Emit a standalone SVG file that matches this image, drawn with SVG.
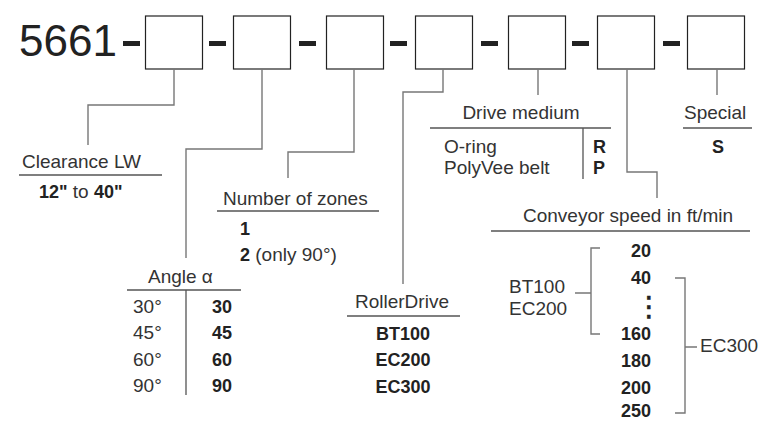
<svg xmlns="http://www.w3.org/2000/svg" width="759" height="421" viewBox="0 0 759 421">
<style>
text{font-family:"Liberation Sans",Arial,sans-serif;fill:#333;font-size:19px}
.b{font-weight:bold;font-size:18px;fill:#222}
.box{fill:#fff;stroke:#222;stroke-width:1.2}
.dash{fill:#222}
.c{fill:none;stroke:#777;stroke-width:1.4}
.u{fill:none;stroke:#555;stroke-width:1.3}
.e{text-anchor:end}
.m{text-anchor:middle}
</style>
<rect width="759" height="421" fill="#fff"/>
<g id="code">
<text x="19" y="56" style="font-size:44px;fill:#222">5661</text>
<rect class="dash" x="123" y="41" width="17" height="5"/>
<rect class="dash" x="209" y="41" width="17" height="5"/>
<rect class="dash" x="299" y="41" width="17" height="5"/>
<rect class="dash" x="390" y="41" width="17" height="5"/>
<rect class="dash" x="481" y="41" width="17" height="5"/>
<rect class="dash" x="572" y="41" width="17" height="5"/>
<rect class="dash" x="663" y="41" width="17" height="5"/>
</g>
<g id="box1"><rect class="box" x="145.5" y="16" width="57" height="53"/></g>
<g id="box2"><rect class="box" x="233.5" y="16" width="57" height="53"/></g>
<g id="box3"><rect class="box" x="326.5" y="16" width="57" height="53"/></g>
<g id="box4"><rect class="box" x="415.5" y="16" width="57" height="53"/></g>
<g id="box5"><rect class="box" x="508.5" y="16" width="57" height="53"/></g>
<g id="box6"><rect class="box" x="597.5" y="16" width="57" height="53"/></g>
<g id="box7"><rect class="box" x="687.5" y="16" width="57" height="53"/></g>
<g id="connectors">
<path class="c" d="M174,69V105H88V145"/>
<path class="c" d="M262,69V149H186V258"/>
<path class="c" d="M354,69V152H288V178"/>
<path class="c" d="M443,69V92H403V284"/>
<path class="c" d="M538,69V95"/>
<path class="c" d="M627,69V172H657V198"/>
<path class="c" d="M717,69V95"/>
<path class="c" d="M600,248H591V334H600M575,293H591"/>
<path class="c" d="M675,278H685V413H675M685,347H697"/>
</g>
<g id="clearance">
<text x="22" y="168">Clearance LW</text>
<path class="u" d="M19,175H162"/>
<text x="39" y="198"><tspan class="b">12"</tspan> to <tspan class="b">40"</tspan></text>
</g>
<g id="zones">
<text x="223" y="205">Number of zones</text>
<path class="u" d="M217,211H379"/>
<text class="b" x="240" y="235">1</text>
<text x="240" y="261"><tspan class="b">2</tspan> (only 90°)</text>
</g>
<g id="angle">
<text x="148" y="283">Angle α</text>
<path class="u" d="M127,290H241M186,290V395"/>
<text x="133" y="313">30°</text>
<text x="133" y="339">45°</text>
<text x="133" y="366">60°</text>
<text x="133" y="392">90°</text>
<text class="b e" x="232" y="313">30</text>
<text class="b e" x="232" y="339">45</text>
<text class="b e" x="232" y="366">60</text>
<text class="b e" x="232" y="392">90</text>
</g>
<g id="rollerdrive">
<text x="355" y="308">RollerDrive</text>
<path class="u" d="M347,316H460"/>
<text class="b m" x="403" y="340">BT100</text>
<text class="b m" x="403" y="366">EC200</text>
<text class="b m" x="403" y="393">EC300</text>
</g>
<g id="drive">
<text class="m" x="521" y="119">Drive medium</text>
<path class="u" d="M430,128H611M583,128V179"/>
<text x="444" y="153">O-ring</text>
<text x="444" y="174">PolyVee belt</text>
<text class="b" x="593" y="153">R</text>
<text class="b" x="593" y="174">P</text>
</g>
<g id="special">
<text x="684" y="119">Special</text>
<path class="u" d="M683,128H752"/>
<text class="b m" x="718" y="153">S</text>
</g>
<g id="speed">
<text x="523" y="222">Conveyor speed in ft/min</text>
<path class="u" d="M491,231H750"/>
<text x="509" y="293">BT100</text>
<text x="509" y="315">EC200</text>
<text x="700" y="352">EC300</text>
<text class="b e" x="651" y="257">20</text>
<text class="b e" x="651" y="284">40</text>
<text class="b e" x="651" y="340">160</text>
<text class="b e" x="651" y="367">180</text>
<text class="b e" x="651" y="394">200</text>
<text class="b e" x="651" y="417">250</text>
<text class="m" x="649" y="316" style="font-family:'DejaVu Sans',sans-serif;font-size:28px;fill:#222;stroke:#222;stroke-width:0.6">⋮</text>
</g>
</svg>
